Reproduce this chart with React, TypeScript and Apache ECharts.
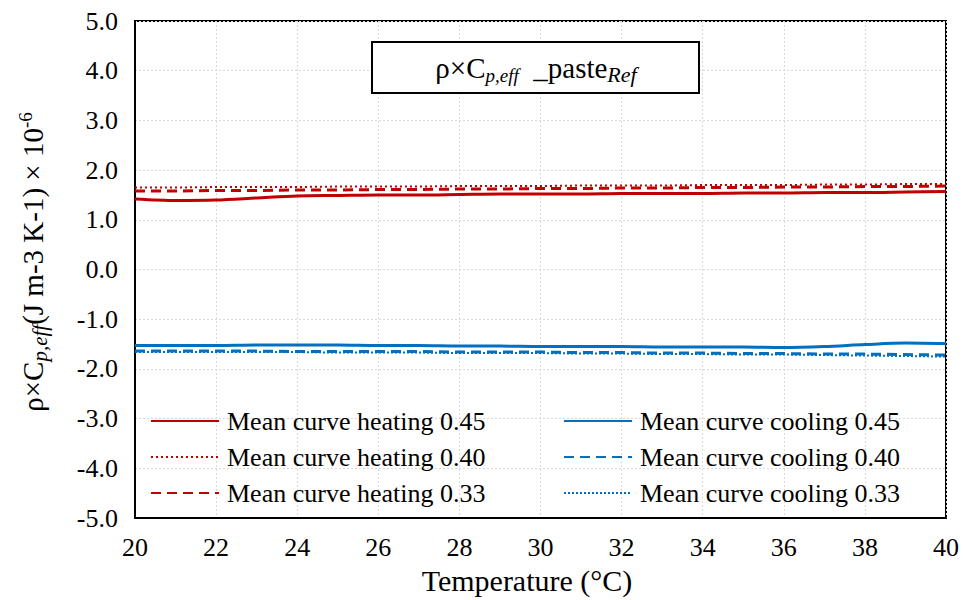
import React, { useEffect, useRef } from "react";
import * as echarts from "echarts";

const temperature = [20, 21, 22, 23, 24, 25, 26, 27, 28, 29, 30, 31, 32, 33, 34, 35, 36, 37, 38, 39, 40];
const heating045 = [1.42, 1.39, 1.40, 1.44, 1.48, 1.49, 1.50, 1.50, 1.51, 1.52, 1.52, 1.52, 1.53, 1.53, 1.53, 1.54, 1.54, 1.55, 1.55, 1.56, 1.57];
const heating040 = [1.65, 1.65, 1.66, 1.66, 1.66, 1.67, 1.67, 1.67, 1.68, 1.68, 1.68, 1.69, 1.69, 1.69, 1.70, 1.70, 1.70, 1.71, 1.71, 1.72, 1.72];
const heating033 = [1.58, 1.58, 1.59, 1.59, 1.60, 1.60, 1.61, 1.61, 1.62, 1.62, 1.63, 1.63, 1.64, 1.64, 1.65, 1.65, 1.66, 1.66, 1.67, 1.67, 1.68];
const cooling045 = [-1.53, -1.53, -1.53, -1.52, -1.52, -1.52, -1.53, -1.53, -1.54, -1.54, -1.55, -1.55, -1.55, -1.56, -1.56, -1.56, -1.57, -1.55, -1.51, -1.48, -1.49];
const cooling040 = [-1.64, -1.64, -1.64, -1.64, -1.65, -1.65, -1.65, -1.65, -1.66, -1.66, -1.66, -1.67, -1.67, -1.68, -1.68, -1.69, -1.69, -1.70, -1.70, -1.71, -1.72];
const cooling033 = [-1.66, -1.66, -1.66, -1.66, -1.66, -1.67, -1.67, -1.67, -1.68, -1.68, -1.68, -1.69, -1.69, -1.70, -1.70, -1.71, -1.71, -1.72, -1.73, -1.74, -1.75];

const heatingNames = ["Mean curve heating 0.45", "Mean curve heating 0.40", "Mean curve heating 0.33"];
const coolingNames = ["Mean curve cooling 0.45", "Mean curve cooling 0.40", "Mean curve cooling 0.33"];

const RED = "#C00000";
const BLUE = "#0070C0";
const FONT = "Liberation Serif";

function pairs(vals: number[]) {
  return temperature.map((t, i) => [t, vals[i]]);
}

export default function App() {
  const ref = useRef<HTMLDivElement>(null);
  useEffect(() => {
    if (!ref.current) return;
    const chart = echarts.init(ref.current, null, { renderer: "svg" });
    const mk = (name: string, data: number[], color: string, type: any, width: number, smooth: boolean) => ({
      name,
      type: "line",
      data: pairs(data),
      symbol: "none",
      smooth: smooth ? 0.3 : false,
      lineStyle: { color, type, width },
      itemStyle: { color },
    });
    const legendCommon = {
      orient: "vertical",
      top: 408,
      padding: 0,
      itemWidth: 68,
      itemHeight: 14,
      itemGap: 10,
      itemStyle: { opacity: 0 },
      textStyle: { fontFamily: FONT, fontSize: 26, color: "#000", padding: [0, 0, 0, 3] },
    };
    chart.setOption({
      animation: false,
      backgroundColor: "#fff",
      grid: {
        left: 135,
        right: 17,
        top: 21,
        bottom: 79,
        show: true,
        borderColor: "#000",
        borderWidth: 2,
        backgroundColor: "transparent",
      },
      xAxis: {
        type: "value",
        min: 20,
        max: 40,
        interval: 2,
        axisLine: { show: true, onZero: false, lineStyle: { color: "#000", width: 2 } },
        axisTick: { show: false },
        axisLabel: { fontFamily: FONT, fontSize: 26, color: "#000", margin: 16 },
        splitLine: { show: true, lineStyle: { color: "#D9D9D9", type: [2, 2], width: 1 } },
        name: "Temperature (°C)",
        nameLocation: "middle",
        nameGap: 44,
        nameTextStyle: { fontFamily: FONT, fontSize: 30, color: "#000", padding: [0, 27, 0, 0] },
      },
      yAxis: {
        type: "value",
        min: -5,
        max: 5,
        interval: 1,
        axisLine: { show: true, onZero: false, lineStyle: { color: "#000", width: 2 } },
        axisTick: { show: false },
        axisLabel: {
          fontFamily: FONT,
          fontSize: 26,
          color: "#000",
          margin: 17,
          formatter: (v: number) => v.toFixed(1),
        },
        splitLine: { show: true, lineStyle: { color: "#D9D9D9", type: [2, 2], width: 1 } },
      },
      legend: [
        { ...legendCommon, left: 150, data: heatingNames },
        { ...legendCommon, left: 563, data: coolingNames },
      ],
      series: [
        mk(heatingNames[0], heating045, RED, "solid", 3, true),
        mk(heatingNames[1], heating040, RED, [2, 3], 2, false),
        mk(heatingNames[2], heating033, RED, [10, 6], 3, false),
        mk(coolingNames[0], cooling045, BLUE, "solid", 3, true),
        mk(coolingNames[1], cooling040, BLUE, [10, 6], 3, false),
        mk(coolingNames[2], cooling033, BLUE, [2, 2], 2, false),
      ],
      graphic: [
        {
          type: "rect",
          shape: { x: 372, y: 42, width: 327, height: 51 },
          style: { fill: "#fff", stroke: "#000", lineWidth: 2 },
          z: 100,
        },
        {
          type: "text",
          x: 536,
          y: 68,
          z: 101,
          style: {
            text: "{a|ρ×C}{s|p,eff}{a|  _paste}{r|Ref}",
            align: "center",
            verticalAlign: "middle",
            rich: {
              a: { fontFamily: FONT, fontSize: 29, lineHeight: 34, verticalAlign: "middle", fill: "#000" },
              s: { fontFamily: FONT, fontSize: 19, fontStyle: "italic", lineHeight: 12, verticalAlign: "bottom", fill: "#000" },
              r: { fontFamily: FONT, fontSize: 22, fontStyle: "italic", lineHeight: 12, verticalAlign: "bottom", fill: "#000" },
            },
          },
        },
        {
          type: "text",
          x: 33,
          y: 262,
          rotation: Math.PI / 2,
          style: {
            text: "{a|ρ×C}{s|p,eff}{a|(J m-3 K-1) × 10}{p|-6}",
            align: "center",
            verticalAlign: "middle",
            rich: {
              a: { fontFamily: FONT, fontSize: 29, lineHeight: 34, verticalAlign: "middle", fill: "#000" },
              s: { fontFamily: FONT, fontSize: 21, fontStyle: "italic", lineHeight: 12, verticalAlign: "bottom", fill: "#000" },
              p: { fontFamily: FONT, fontSize: 19, lineHeight: 14, verticalAlign: "top", fill: "#000" },
            },
          },
        },
      ],
    });
    return () => chart.dispose();
  }, []);
  return (
    <div
      ref={ref}
      style={{ position: "absolute", left: 0, top: 0, width: 963, height: 600 }}
    />
  );
}
